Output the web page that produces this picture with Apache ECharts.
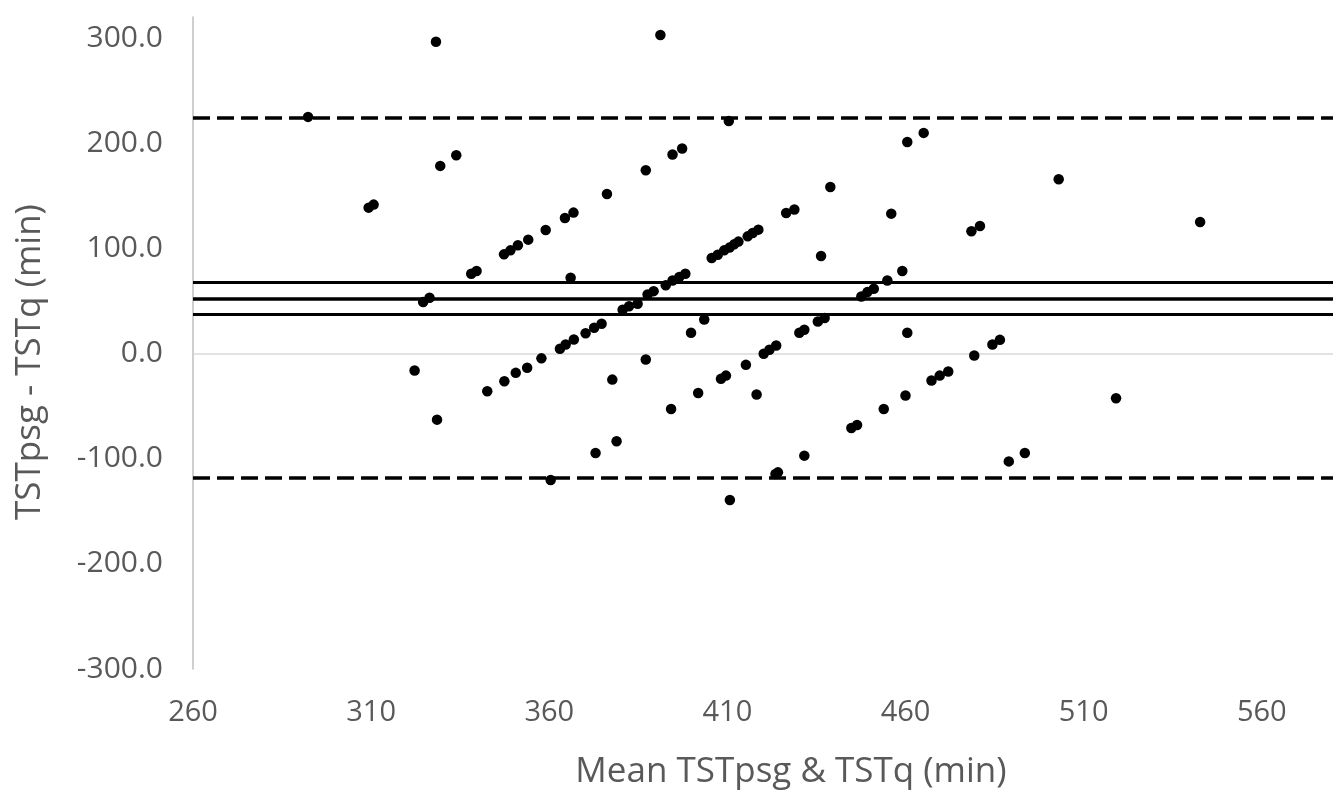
<!DOCTYPE html>
<html>
<head>
<meta charset="utf-8">
<script src="https://cdn.jsdelivr.net/npm/echarts@6/dist/echarts.min.js"></script>
<style>
html,body{margin:0;padding:0;background:#fff;}
#chart{width:1341px;height:794px;}
</style>
</head>
<body>
<div id="chart"></div>
<script>
// Mean of the two measurements (x) and their difference (y)
const meanValues = [292.3,309.3,310.7,322.2,324.6,326.4,328.2,328.5,329.4,333.9,338.1,339.6,342.6,347.3,347.4,349.1,350.6,351.2,353.8,354.1,357.8,359.0,360.4,363.0,364.4,364.6,366.0,366.8,366.9,370.2,372.6,373.0,374.7,376.2,377.7,378.9,380.6,382.4,384.8,387.1,387.1,387.6,389.3,391.2,392.7,394.2,394.6,394.6,396.5,397.3,398.2,399.8,401.8,403.5,405.6,407.3,408.2,409.1,409.6,410.4,410.6,410.7,411.9,413.1,415.2,415.7,417.1,418.2,418.7,420.2,421.8,423.7,423.5,424.2,426.5,428.8,430.2,431.6,431.6,435.4,436.3,437.3,438.9,444.8,446.4,447.6,449.3,451.1,453.9,454.9,456.0,459.1,460.0,460.5,460.5,465.1,467.3,469.6,472.0,478.5,479.3,480.9,484.4,486.5,489.0,493.5,503.0,519.1,542.7];
const diffValues = [225.0,138.7,141.6,-16.2,48.9,53.0,296.5,-62.9,178.4,188.6,75.9,78.4,-35.9,94.3,-26.4,98.1,-18.4,102.9,-13.5,108.3,-4.6,117.4,-120.3,4.5,128.9,8.6,72.1,134.0,13.3,19.3,24.5,-94.6,28.3,151.7,-24.8,-83.5,41.6,45.0,47.3,174.3,-5.7,56.2,59.3,302.9,64.8,-52.7,69.5,189.2,72.7,195.0,75.9,19.7,-37.5,32.4,90.8,94.0,-24.1,98.1,-21.0,221.0,100.7,-139.3,103.8,106.4,-10.8,111.4,114.6,-39.0,117.8,-0.3,3.5,7.6,-114.6,-113.0,133.6,136.9,19.7,22.6,-97.1,30.5,92.7,33.7,158.4,-70.8,-67.9,54.3,58.4,61.6,-52.7,69.5,133.0,78.4,-40.0,201.2,19.7,209.8,-25.7,-21.0,-17.1,116.2,-1.9,121.2,8.6,13.0,-102.6,-94.6,165.7,-42.5,125.0];

const meanBias = 52.1;
const ciLower = 37.1;
const ciUpper = 67.3;
const loaUpper = 224.0;
const loaLower = -118.5;

const xTitle = 'Mean TSTpsg & TSTq (min)';
const yTitle = 'TSTpsg - TSTq (min)';

const points = meanValues.map((x, i) => [x, diffValues[i]]);

const chart = echarts.init(document.getElementById('chart'));
const font = 'Open Sans';
chart.setOption({
  animation: false,
  grid: {left: 193, right: 8, top: 17, bottom: 125, containLabel: false, outerBoundsMode: 'none'},
  xAxis: {
    type: 'value', min: 260, max: 580, interval: 50,
    axisLine: {show: false}, axisTick: {show: false}, splitLine: {show: false},
    axisLabel: {showMaxLabel: false, color: '#595959', fontFamily: font, fontSize: 29, margin: 29},
    name: xTitle, nameLocation: 'middle', nameGap: 86,
    nameTextStyle: {color: '#595959', fontFamily: font, fontSize: 35, padding: [0, 0, 0, 56]}
  },
  yAxis: {
    type: 'value', min: -300, max: 320, interval: 100,
    axisLine: {show: true, lineStyle: {color: '#bfbfbf', width: 1.5}},
    axisTick: {show: false}, splitLine: {show: false},
    axisLabel: {showMaxLabel: false, color: '#595959', fontFamily: font, fontSize: 30, margin: 30,
      formatter: v => v.toFixed(1)},
    name: yTitle, nameLocation: 'middle', nameGap: 145,
    nameTextStyle: {color: '#595959', fontFamily: font, fontSize: 35, padding: [0, 38, 0, 0]}
  },
  series: [
    {
      type: 'line', data: [], silent: true,
      markLine: {
        silent: true, symbol: 'none', label: {show: false}, animation: false,
        data: [
          {yAxis: 0, lineStyle: {color: '#d9d9d9', width: 1.5, type: 'solid'}},
          {yAxis: ciUpper, lineStyle: {color: '#000', width: 3, type: 'solid'}},
          {yAxis: meanBias, lineStyle: {color: '#000', width: 3.5, type: 'solid'}},
          {yAxis: ciLower, lineStyle: {color: '#000', width: 3, type: 'solid'}},
          {yAxis: loaUpper, lineStyle: {color: '#000', width: 3.5, type: [17, 7]}},
          {yAxis: loaLower, lineStyle: {color: '#000', width: 3.5, type: [17, 7]}}
        ]
      }
    },
    {
      type: 'scatter', data: points, symbol: 'circle', symbolSize: 10.5,
      itemStyle: {color: '#000', opacity: 1}, z: 5
    }
  ]
});
</script>
</body>
</html>
